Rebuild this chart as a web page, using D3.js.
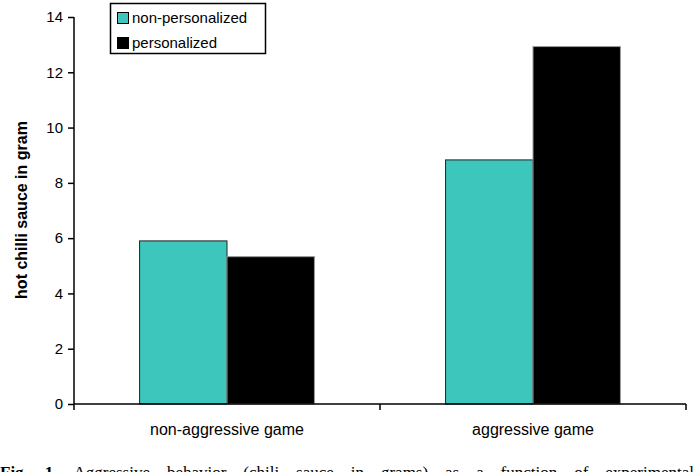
<!DOCTYPE html>
<html><head><meta charset="utf-8">
<script src="https://cdn.jsdelivr.net/npm/d3@7"></script>
<style>body{margin:0;background:#fff;overflow:hidden}svg{display:block}</style>
</head><body>
<script>
const categories = ["non-aggressive game", "aggressive game"];
const seriesNames = ["non-personalized", "personalized"];
const nonPersonalized = [5.9, 8.83];
const personalized = [5.33, 12.93];
const yTicks = [0, 2, 4, 6, 8, 10, 12, 14];
const colors = ["#3cc6bc", "#000000"];
const captionBold = "Fig. 1.";
const captionText = " Aggressive behavior (chili sauce in grams) as a function of experimental";

const W = 696, H = 472;
const svg = d3.select("body").append("svg").attr("width", W).attr("height", H);

const x0 = d3.scaleBand().domain(categories).range([74, 686]).paddingInner(0).paddingOuter(0);
const x1 = d3.scaleBand().domain(seriesNames).range([0, x0.bandwidth()]).paddingInner(0).paddingOuter(0.75);
const y = d3.scaleLinear().domain([0, 14]).range([404, 17]);

const data = categories.map((c, i) => ({cat: c, vals: [
  {s: seriesNames[0], v: nonPersonalized[i], c: colors[0]},
  {s: seriesNames[1], v: personalized[i], c: colors[1]}
]}));

const g = svg.append("g");
data.forEach(d => {
  d.vals.forEach(b => {
    g.append("rect")
      .attr("x", x0(d.cat) + x1(b.s))
      .attr("y", y(b.v))
      .attr("width", x1.bandwidth())
      .attr("height", y(0) - y(b.v))
      .attr("fill", b.c)
      .attr("stroke", b.s === seriesNames[0] ? "#222" : "#999")
      .attr("stroke-width", 1);
  });
});

// y axis
const yAxis = d3.axisLeft(y).tickValues(yTicks).tickSize(6).tickPadding(5).tickFormat(d3.format("d"));
const ya = svg.append("g").attr("transform", "translate(74,0)").call(yAxis);
ya.select(".domain").attr("d", "M0,17V410").attr("stroke", "#000").attr("stroke-width", 1.5);
ya.selectAll(".tick line").attr("stroke", "#000").attr("stroke-width", 1.5);
ya.selectAll("text").attr("font-family", "Liberation Sans, Arial, sans-serif").attr("font-size", 15).attr("fill", "#000");

// x axis
const xa = svg.append("g").attr("transform", "translate(0,404)");
xa.append("line").attr("x1", 74).attr("x2", 686).attr("y1", 0).attr("y2", 0).attr("stroke", "#000").attr("stroke-width", 1.5);
const xTickPos = [x0(categories[1]), x0(categories[1]) + x0.bandwidth()];
xTickPos.forEach(p => {
  xa.append("line").attr("x1", p).attr("x2", p).attr("y1", 0).attr("y2", 6).attr("stroke", "#000").attr("stroke-width", 1.5);
});
categories.forEach(c => {
  xa.append("text").attr("x", x0(c) + x0.bandwidth() / 2).attr("y", 31)
    .attr("text-anchor", "middle").attr("font-family", "Liberation Sans, Arial, sans-serif")
    .attr("font-size", 16).attr("fill", "#000").text(c);
});

// y label
svg.append("text").attr("transform", "translate(27,210) rotate(-90)")
  .attr("text-anchor", "middle").attr("font-family", "Liberation Sans, Arial, sans-serif")
  .attr("font-size", 16).attr("font-weight", "bold").attr("fill", "#000").text("hot chilli sauce in gram");

// legend
const lg = svg.append("g");
lg.append("rect").attr("x", 110.5).attr("y", 3.5).attr("width", 155).attr("height", 50)
  .attr("fill", "#fff").attr("stroke", "#000").attr("stroke-width", 1.5);
seriesNames.forEach((s, i) => {
  lg.append("rect").attr("x", 117.5).attr("y", 12.5 + i * 25).attr("width", 11).attr("height", 11)
    .attr("fill", colors[i]).attr("stroke", "#000").attr("stroke-width", 1);
  lg.append("text").attr("x", 132).attr("y", 23 + i * 25)
    .attr("font-family", "Liberation Sans, Arial, sans-serif").attr("font-size", 15).attr("fill", "#000").text(s);
});

// caption (cut off at bottom edge, as in the reference)
const cap = svg.append("text").attr("x", 0).attr("y", 478)
  .attr("font-family", "Liberation Serif, Times New Roman, serif").attr("font-size", 17).attr("fill", "#000");
cap.append("tspan").attr("font-weight", "bold").text(captionBold);
cap.append("tspan").text(captionText);
const natural = cap.node().getComputedTextLength();
const spaces = (captionBold + captionText).split(" ").length - 1;
const extra = Math.max(0, (694 - natural) / spaces);
cap.attr("word-spacing", extra);
</script>
</body></html>
